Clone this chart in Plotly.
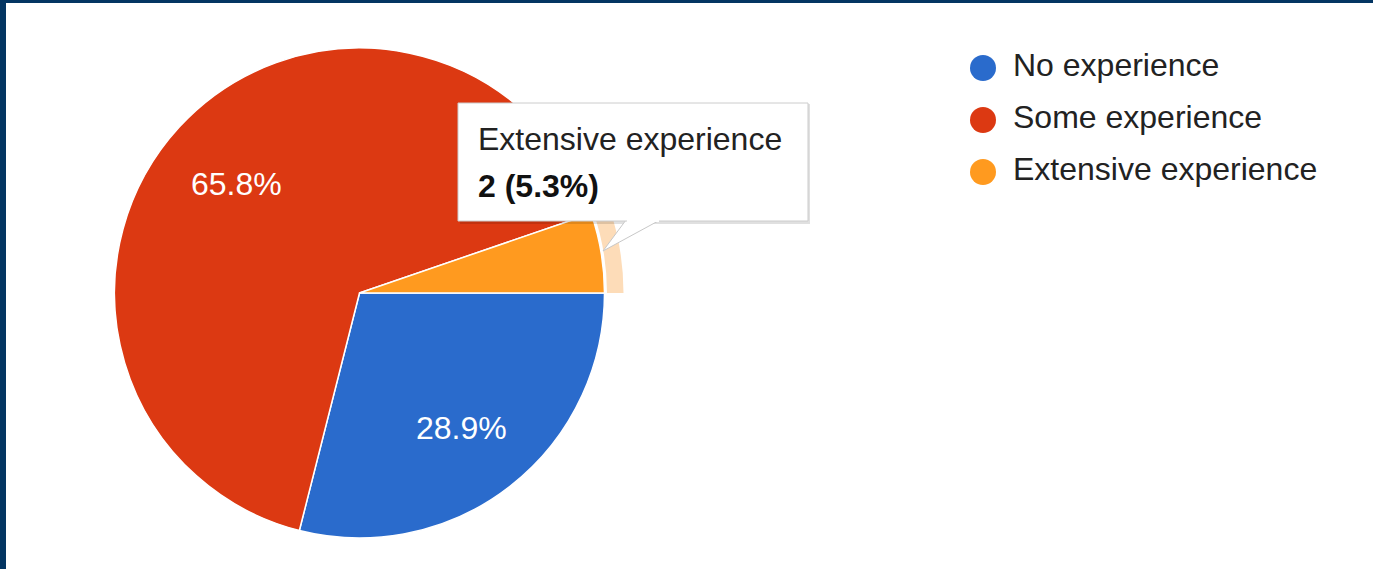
import math
import plotly.graph_objects as go

# ---- data ----
categories = ["No experience", "Some experience", "Extensive experience"]
counts = [11, 25, 2]
colors = ["#2a6bcc", "#dc3912", "#ff9a1f"]
show_label = [True, True, False]
hover_index = 2  # highlighted slice (Extensive experience)

W, H = 1373, 569
FONT = "Liberation Sans, Arial, sans-serif"

def px(x):
    return x / W

def py(y):
    return 1 - y / H

# pie geometry (pixels)
cx, cy, R = 359.5, 293, 245
ring_in, ring_out = 247.5, 264
label_r = 0.68

fig = go.Figure()

# hover highlight ring (same data, only highlighted slice visible)
ring_colors = ["rgba(0,0,0,0)"] * len(counts)
ring_colors[hover_index] = "#fddcb8"
fig.add_trace(go.Pie(
    labels=categories, values=counts, sort=False, direction="clockwise", rotation=90,
    hole=ring_in / ring_out,
    marker=dict(colors=ring_colors, line=dict(color="rgba(0,0,0,0)", width=0)),
    textinfo="none", hoverinfo="skip", showlegend=False,
    domain=dict(x=[px(cx - ring_out), px(cx + ring_out)], y=[py(cy + ring_out), py(cy - ring_out)]),
))

# main pie
fig.add_trace(go.Pie(
    labels=categories, values=counts, sort=False, direction="clockwise", rotation=90,
    marker=dict(colors=colors, line=dict(color="white", width=1.5)),
    textinfo="none",
    showlegend=False, hoverinfo="label+value+percent",
    domain=dict(x=[px(cx - R), px(cx + R)], y=[py(cy + R), py(cy - R)]),
))

# custom legend drawn from the data lists
rows = list(range(len(categories)))
fig.add_trace(go.Scatter(
    x=[0] * len(categories), y=rows, mode="markers",
    marker=dict(color=colors, size=26, line=dict(width=0)),
    cliponaxis=False, showlegend=False, hoverinfo="skip",
))
fig.add_trace(go.Scatter(
    x=[30] * len(categories), y=rows, mode="text", text=categories,
    textposition="middle right",
    textfont=dict(family=FONT, size=32, color="#222222"),
    cliponaxis=False, showlegend=False, hoverinfo="skip",
))

fig.update_layout(
    width=W, height=H,
    margin=dict(l=0, r=0, t=0, b=0),
    paper_bgcolor="white", plot_bgcolor="rgba(0,0,0,0)",
    showlegend=False,
    xaxis=dict(domain=[px(983), 1.0], range=[0, W - 983], visible=False, fixedrange=True),
    yaxis=dict(domain=[py(198), py(42)], range=[2.5, -0.5], visible=False, fixedrange=True),
)

# slice percentage labels, positioned along each slice bisector
total = sum(counts)
start = 0.0
for name, v, show in zip(categories, counts, show_label):
    frac = v / total
    mid = math.radians((start + frac / 2) * 360)  # clockwise from 3 o'clock
    start += frac
    if not show:
        continue
    lx = cx + label_r * R * math.cos(mid)
    ly = cy + label_r * R * math.sin(mid)
    fig.add_annotation(xref="paper", yref="paper", x=px(lx), y=py(ly),
                       xanchor="center", yanchor="middle", showarrow=False, yshift=-4,
                       text=f"{frac * 100:.1f}%",
                       font=dict(family=FONT, size=32, color="white"))

# tooltip (decoration)
bx0, bx1, by0, by1 = 458, 808, 103, 221
shapes = [
    dict(type="rect", xref="paper", yref="paper", x0=px(bx0 + 2), x1=px(bx1 + 2), y0=py(by1 + 3), y1=py(by0 + 1),
         fillcolor="rgba(0,0,0,0.12)", line=dict(width=0)),
    dict(type="path", xref="paper", yref="paper",
         path=f"M {px(626)} {py(by1 - 1)} L {px(603)} {py(251)} L {px(660)} {py(by1 - 1)} Z",
         fillcolor="white", line=dict(color="#c8c8c8", width=1)),
    dict(type="rect", xref="paper", yref="paper", x0=px(bx0), x1=px(bx1), y0=py(by1), y1=py(by0),
         fillcolor="white", line=dict(color="#cccccc", width=1)),
    dict(type="line", xref="paper", yref="paper", x0=px(627), x1=px(659), y0=py(by1), y1=py(by1),
         line=dict(color="white", width=2)),
    # frame
    dict(type="rect", xref="paper", yref="paper", x0=0, x1=px(6), y0=0, y1=1,
         fillcolor="#033562", line=dict(width=0)),
    dict(type="rect", xref="paper", yref="paper", x0=0, x1=1, y0=py(3), y1=1,
         fillcolor="#033562", line=dict(width=0)),
]
fig.update_layout(shapes=shapes)

pct = counts[hover_index] / total * 100
fig.add_annotation(xref="paper", yref="paper", x=px(476), y=py(139), xanchor="left", yanchor="middle",
                   text=categories[hover_index], showarrow=False,
                   font=dict(family=FONT, size=32, color="#222222"))
fig.add_annotation(xref="paper", yref="paper", x=px(476), y=py(186), xanchor="left", yanchor="middle",
                   text=f"<b>{counts[hover_index]} ({pct:.1f}%)</b>", showarrow=False,
                   font=dict(family=FONT, size=32, color="#111111"))

fig.write_html("out.html", config={"displayModeBar": False})
